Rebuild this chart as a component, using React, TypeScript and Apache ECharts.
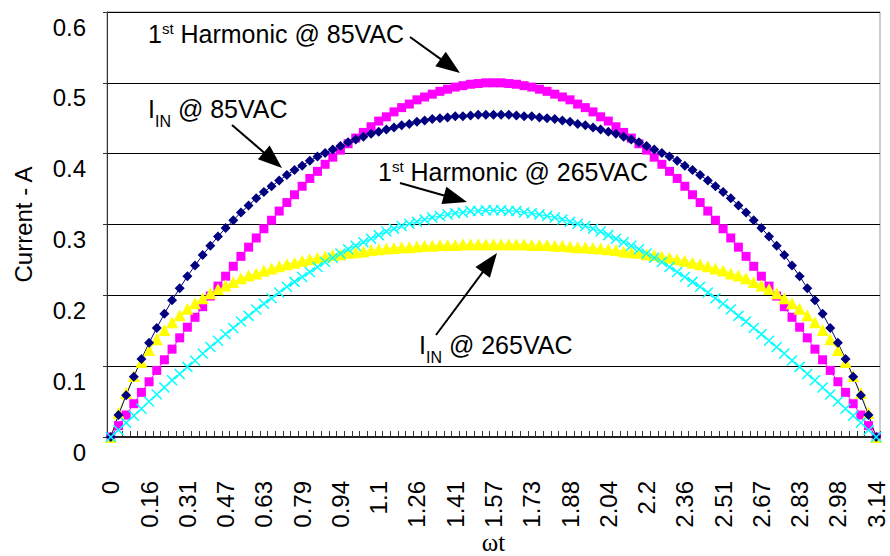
import React, { useEffect, useRef } from "react";
import * as echarts from "echarts";

// ---- data ----
const tickLabels = [
  "0", "0.16", "0.31", "0.47", "0.63", "0.79", "0.94", "1.1", "1.26", "1.41", "1.57",
  "1.73", "1.88", "2.04", "2.2", "2.36", "2.51", "2.67", "2.83", "2.98", "3.14",
];
const sampleCount = 101;
const categories = Array.from({ length: sampleCount }, (_, i) => (Math.PI * i / (sampleCount - 1)).toFixed(4));

const harmonic85 = [
  0, 0.016, 0.031, 0.047, 0.063, 0.078, 0.094, 0.109, 0.124, 0.14, 0.155, 0.169, 0.184, 0.199, 0.213, 0.227,
  0.241, 0.255, 0.268, 0.281, 0.294, 0.306, 0.319, 0.331, 0.342, 0.354, 0.365, 0.375, 0.385, 0.395, 0.405,
  0.414, 0.422, 0.43, 0.438, 0.446, 0.452, 0.459, 0.465, 0.47, 0.476, 0.48, 0.484, 0.488, 0.491, 0.494,
  0.496, 0.498, 0.499, 0.5, 0.5,
  0.5, 0.499, 0.498, 0.496, 0.494, 0.491, 0.488, 0.484, 0.48, 0.476, 0.47, 0.465, 0.459, 0.452, 0.446,
  0.438, 0.43, 0.422, 0.414, 0.405, 0.395, 0.385, 0.375, 0.365, 0.354, 0.342, 0.331, 0.319, 0.306, 0.294,
  0.281, 0.268, 0.255, 0.241, 0.227, 0.213, 0.199, 0.184, 0.169, 0.155, 0.14, 0.124, 0.109, 0.094, 0.078,
  0.063, 0.047, 0.031, 0.016, 0,
];
const input85 = [
  0, 0.031, 0.059, 0.085, 0.11, 0.133, 0.154, 0.174, 0.193, 0.21, 0.227, 0.242, 0.257, 0.27, 0.283, 0.295,
  0.306, 0.317, 0.327, 0.337, 0.346, 0.354, 0.362, 0.37, 0.377, 0.383, 0.39, 0.396, 0.401, 0.406, 0.411,
  0.416, 0.42, 0.424, 0.428, 0.431, 0.434, 0.437, 0.44, 0.442, 0.445, 0.447, 0.449, 0.45, 0.451, 0.453,
  0.453, 0.454, 0.455, 0.455, 0.455,
  0.455, 0.455, 0.454, 0.453, 0.453, 0.451, 0.45, 0.449, 0.447, 0.445, 0.442, 0.44, 0.437, 0.434, 0.431,
  0.428, 0.424, 0.42, 0.416, 0.411, 0.406, 0.401, 0.396, 0.39, 0.383, 0.377, 0.37, 0.362, 0.354, 0.346,
  0.337, 0.327, 0.317, 0.306, 0.295, 0.283, 0.27, 0.257, 0.242, 0.227, 0.21, 0.193, 0.174, 0.154, 0.133,
  0.11, 0.085, 0.059, 0.031, 0,
];
const harmonic265 = [
  0, 0.01, 0.02, 0.03, 0.04, 0.05, 0.06, 0.07, 0.08, 0.089, 0.099, 0.108, 0.118, 0.127, 0.136, 0.145,
  0.154, 0.163, 0.171, 0.18, 0.188, 0.196, 0.204, 0.212, 0.219, 0.226, 0.233, 0.24, 0.247, 0.253, 0.259,
  0.265, 0.27, 0.275, 0.28, 0.285, 0.29, 0.294, 0.298, 0.301, 0.304, 0.307, 0.31, 0.312, 0.314, 0.316,
  0.317, 0.319, 0.319, 0.32, 0.32,
  0.32, 0.319, 0.319, 0.317, 0.316, 0.314, 0.312, 0.31, 0.307, 0.304, 0.301, 0.298, 0.294, 0.29, 0.285,
  0.28, 0.275, 0.27, 0.265, 0.259, 0.253, 0.247, 0.24, 0.233, 0.226, 0.219, 0.212, 0.204, 0.196, 0.188,
  0.18, 0.171, 0.163, 0.154, 0.145, 0.136, 0.127, 0.118, 0.108, 0.099, 0.089, 0.08, 0.07, 0.06, 0.05,
  0.04, 0.03, 0.02, 0.01, 0,
];
const input265 = [
  0, 0.034, 0.062, 0.086, 0.106, 0.123, 0.138, 0.151, 0.162, 0.172, 0.181, 0.189, 0.196, 0.203, 0.209, 0.214,
  0.219, 0.224, 0.228, 0.231, 0.235, 0.238, 0.241, 0.244, 0.246, 0.249, 0.251, 0.253, 0.255, 0.257, 0.258,
  0.26, 0.261, 0.262, 0.264, 0.265, 0.266, 0.267, 0.268, 0.268, 0.269, 0.27, 0.27, 0.271, 0.271, 0.271,
  0.272, 0.272, 0.272, 0.272, 0.272,
  0.272, 0.272, 0.272, 0.272, 0.271, 0.271, 0.271, 0.27, 0.27, 0.269, 0.268, 0.268, 0.267, 0.266, 0.265,
  0.264, 0.262, 0.261, 0.26, 0.258, 0.257, 0.255, 0.253, 0.251, 0.249, 0.246, 0.244, 0.241, 0.238, 0.235,
  0.231, 0.228, 0.224, 0.219, 0.214, 0.209, 0.203, 0.196, 0.189, 0.181, 0.172, 0.162, 0.151, 0.138, 0.123,
  0.106, 0.086, 0.062, 0.034, 0,
];

const FONT = "'Liberation Sans', Arial, sans-serif";
const SERIF = "'Liberation Serif', 'Times New Roman', serif";

function arrow(x1: number, y1: number, x2: number, y2: number) {
  const dx = x2 - x1;
  const dy = y2 - y1;
  const len = Math.sqrt(dx * dx + dy * dy);
  const ux = dx / len;
  const uy = dy / len;
  const headLen = 24;
  const halfW = 9;
  const bx = x2 - ux * headLen;
  const by = y2 - uy * headLen;
  return [
    {
      type: "line",
      shape: { x1, y1, x2: bx + ux * 2, y2: by + uy * 2 },
      style: { stroke: "#000", lineWidth: 2 },
      silent: true,
    },
    {
      type: "polygon",
      shape: {
        points: [
          [x2, y2],
          [bx - uy * halfW, by + ux * halfW],
          [bx + uy * halfW, by - ux * halfW],
        ],
      },
      style: { fill: "#000" },
      silent: true,
    },
  ];
}

const rich = {
  m: { fontSize: 25, lineHeight: 25, fontFamily: FONT, color: "#000", verticalAlign: "top" },
  sup: { fontSize: 15, lineHeight: 15, fontFamily: FONT, color: "#000", verticalAlign: "top" },
  sub: { fontSize: 16, lineHeight: 16, fontFamily: FONT, color: "#000", verticalAlign: "top", padding: [17, 0, 0, 0] },
};

function note(x: number, y: number, text: string) {
  return {
    type: "text",
    x,
    y,
    silent: true,
    style: { text, rich, fill: "#000", font: `25px ${FONT}` },
  };
}

export default function App() {
  const ref = useRef<HTMLDivElement>(null);
  useEffect(() => {
    const chart = echarts.init(ref.current!, null, { renderer: "svg" });
    const series = (name: string, data: number[], symbol: string, size: number, color: string, extra: any = {}) => ({
      type: "line",
      name,
      data,
      symbol,
      symbolSize: size,
      showSymbol: true,
      showAllSymbol: true,
      lineStyle: { color, width: 1 },
      itemStyle: { color },
      emphasis: { disabled: true },
      ...extra,
    });
    chart.setOption({
      animation: false,
      backgroundColor: "#fff",
      textStyle: { fontFamily: FONT },
      grid: {
        left: 107,
        right: 10,
        top: 12,
        bottom: 119,
        show: true,
        borderColor: "#999",
        borderWidth: 1,
        containLabel: false,
        outerBoundsMode: "none",
      },
      xAxis: {
        type: "category",
        data: categories,
        boundaryGap: true,
        name: "ωt",
        nameLocation: "middle",
        nameGap: 105,
        nameMoveOverlap: false,
        nameTextStyle: { fontSize: 25, lineHeight: 20, color: "#000", fontFamily: SERIF, verticalAlign: "middle" },
        axisLine: { lineStyle: { color: "#222", width: 2 } },
        axisTick: { show: true, inside: true, length: 6, interval: 0, lineStyle: { color: "#333", width: 1 } },
        axisLabel: {
          interval: 4,
          rotate: 90,
          margin: 44,
          fontSize: 24,
          color: "#000",
          fontFamily: FONT,
          formatter: (_v: string, idx: number) => tickLabels[idx / 5] ?? "",
        },
        splitLine: { show: false },
      },
      yAxis: {
        type: "value",
        min: 0,
        max: 0.6,
        interval: 0.1,
        name: "Current - A",
        nameLocation: "middle",
        nameGap: 72,
        nameMoveOverlap: false,
        nameTextStyle: { fontSize: 24, color: "#000", fontFamily: FONT },
        axisLine: { show: true, lineStyle: { color: "#333", width: 1 } },
        axisTick: { show: true, inside: false, length: 4, lineStyle: { color: "#333" } },
        axisLabel: {
          fontSize: 24,
          color: "#000",
          margin: 21,
          fontFamily: FONT,
          verticalAlign: "top",
          padding: [3, 0, 0, 0],
        },
        splitLine: { show: true, lineStyle: { color: "#000", width: 1 } },
      },
      series: [
        series("1st Harmonic @ 85VAC", harmonic85, "rect", 9, "#FF00FF"),
        series("IIN @ 265VAC", input265, "triangle", 12, "#FFFF00"),
        series("IIN @ 85VAC", input85, "diamond", 10, "#000080"),
        series("1st Harmonic @ 265VAC", harmonic265, "path://M0 0L10 10M10 0L0 10", 10, "#00FFFF", {
          itemStyle: { color: "#00FFFF", borderColor: "#00FFFF", borderWidth: 1.5 },
        }),
      ],
      graphic: [
        note(148, 21, "{m|1}{sup|st}{m| Harmonic @ 85VAC}"),
        ...arrow(410, 37, 460, 73),
        note(148, 96, "{m|I}{sub|IN}{m| @ 85VAC}"),
        ...arrow(232, 125, 282, 168),
        note(378, 159, "{m|1}{sup|st}{m| Harmonic @ 265VAC}"),
        ...arrow(400, 183, 467, 202),
        note(419, 332, "{m|I}{sub|IN}{m| @ 265VAC}"),
        ...arrow(436, 335, 497, 253),
      ],
    });
    return () => chart.dispose();
  }, []);
  return (
    <div
      ref={ref}
      style={{ position: "fixed", left: 0, top: 0, width: 890, height: 556, background: "#fff" }}
    />
  );
}
